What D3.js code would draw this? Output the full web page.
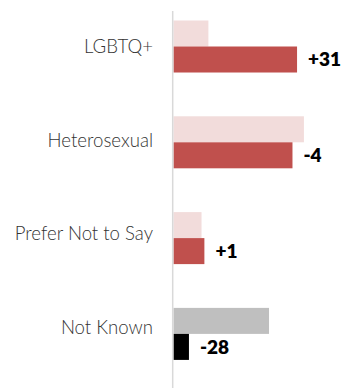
<!DOCTYPE html>
<html>
<head>
<meta charset="utf-8">
<script src="https://cdn.jsdelivr.net/npm/d3@7/dist/d3.min.js"></script>
<style>
  html, body { margin: 0; padding: 0; background: #fff; }
  svg { display: block; }
</style>
</head>
<body>
<div id="chart"></div>
<script>
// Share (%) by group in the earlier period, and the change in points to the later one
const categories = ["LGBTQ+", "Heterosexual", "Prefer Not to Say", "Not Known"];
const previous = [12.2, 45.6, 9.8, 33.4];
const change = [31, -4, 1, -28];
const current = previous.map((v, i) => v + change[i]);

const W = 341, H = 388;
const svg = d3.select("#chart").append("svg")
  .attr("width", W).attr("height", H);

const x0 = 173.5;
const x = d3.scaleLinear().domain([0, 50]).range([x0, x0 + 143]);

// Group bands: each group holds the two bars stacked vertically
const y = d3.scaleBand().domain(categories)
  .range([-1.4, 381.8]).paddingInner(0.457).paddingOuter(0.2285);
const sub = d3.scaleBand().domain(["previous", "current"])
  .range([0, y.bandwidth()]);

// Category labels sit on their own evenly spaced points
const yLabel = d3.scalePoint().domain(categories).range([46, 327.5]);

const lightColor = (i) => categories[i] === "Not Known" ? "#bfbfbf" : "#f2dcdb";
const darkColor = (i) => categories[i] === "Not Known" ? "#000000" : "#c0504d";

const rows = categories.map((c, i) => ({ c, i, prev: previous[i], cur: current[i], diff: change[i] }));

const g = svg.append("g");

g.selectAll("rect.prev").data(rows).join("rect")
  .attr("class", "prev")
  .attr("x", x(0))
  .attr("y", d => y(d.c) + sub("previous"))
  .attr("width", d => x(d.prev) - x(0))
  .attr("height", sub.bandwidth())
  .attr("fill", d => lightColor(d.i));

g.selectAll("rect.cur").data(rows).join("rect")
  .attr("class", "cur")
  .attr("x", x(0))
  .attr("y", d => y(d.c) + sub("current"))
  .attr("width", d => x(d.cur) - x(0))
  .attr("height", sub.bandwidth())
  .attr("fill", d => darkColor(d.i));

// Vertical baseline
svg.append("line")
  .attr("x1", x(0) - 0.8).attr("x2", x(0) - 0.8)
  .attr("y1", 11).attr("y2", H)
  .attr("stroke", "#d9d9d9").attr("stroke-width", 1.5);

// Category labels
svg.selectAll("text.cat").data(rows).join("text")
  .attr("class", "cat")
  .attr("x", 153)
  .attr("y", d => yLabel(d.c))
  .attr("dy", "0.36em")
  .attr("text-anchor", "end")
  .attr("font-family", "Lato, sans-serif")
  .attr("font-weight", 300)
  .attr("font-size", 18.6)
  .attr("fill", "#333333")
  .text(d => d.c);

// Change labels at the end of the current bars
svg.selectAll("text.val").data(rows).join("text")
  .attr("class", "val")
  .attr("x", d => x(d.cur) + 11)
  .attr("y", d => y(d.c) + sub("current") + sub.bandwidth() / 2)
  .attr("dy", "0.36em")
  .attr("font-family", "Lato, sans-serif")
  .attr("font-weight", 800)
  .attr("font-size", 19)
  .attr("fill", "#000")
  .text(d => (d.diff > 0 ? "+" : "") + d.diff);
</script>
</body>
</html>
